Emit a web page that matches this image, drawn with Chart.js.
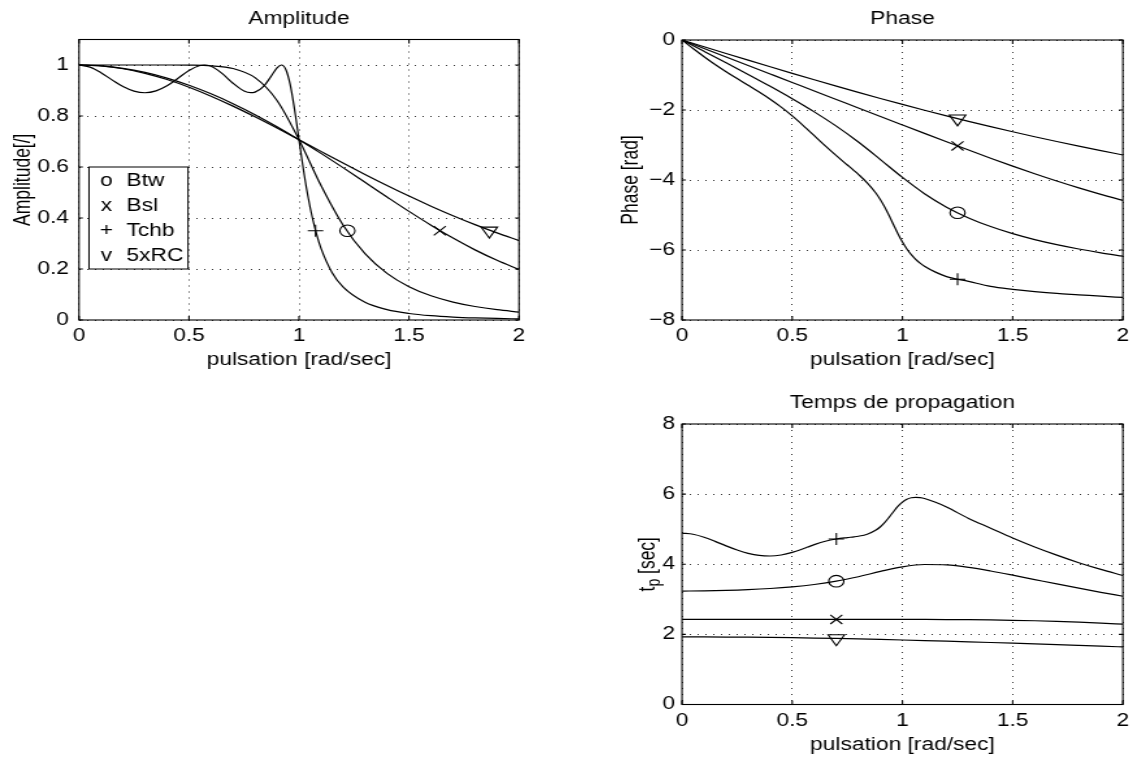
<!DOCTYPE html>
<html><head><meta charset="utf-8">
<script src="https://cdn.jsdelivr.net/npm/chart.js@4.4.1/dist/chart.umd.min.js"></script>
<style>
html,body{margin:0;padding:0;background:#fff;}
body{width:1137px;height:760px;position:relative;overflow:hidden;}
canvas{position:absolute;}
</style></head><body>
<canvas id="cAmp"></canvas>
<canvas id="cPhase"></canvas>
<canvas id="cDelay"></canvas>
<script>
// ---------- data ----------
const wGrid = [0,0.1,0.2,0.3,0.4,0.5,0.6,0.7,0.8,0.9,1.0,1.1,1.2,1.3,1.4,1.5,1.6,1.7,1.8,1.9,2.0];
const wCheb = [0,0.05,0.1,0.15,0.2,0.25,0.3,0.35,0.4,0.45,0.5,0.55,0.57,0.6,0.65,0.7,0.75,0.78,0.8,0.84,0.88,0.9,0.92,0.94,0.96,0.98,1.0,1.02,1.04,1.06,1.08,1.1,1.15,1.2,1.3,1.4,1.5,1.6,1.7,1.8,1.9,2.0];

const ampBtw = [1,1,1,1,0.99995,0.99951,0.99699,0.98617,0.95029,0.86106,0.70711,0.52751,0.37289,0.26006,0.18280,0.13056,0.09494,0.07026,0.05285,0.04035,0.03123];
const ampBsl = [1,0.9967,0.9870,0.9708,0.9486,0.9205,0.8869,0.8483,0.8052,0.7579,0.7071,0.6534,0.5974,0.5400,0.4825,0.4259,0.3718,0.3212,0.2750,0.2340,0.1981];
const ampRC  = [1,0.99629,0.98528,0.96731,0.94291,0.91279,0.87777,0.83876,0.79672,0.75253,0.70711,0.66125,0.61567,0.57096,0.52762,0.48603,0.44646,0.40913,0.37415,0.34156,0.31135];
const ampTchb = [1.0000,0.99164,0.96971,0.94168,0.91559,0.89754,0.89125,0.89837,0.91839,0.94785,0.97869,0.99824,1.00000,0.99471,0.96710,0.92847,0.89810,0.89129,0.89352,0.91727,0.96447,0.98861,1.00000,0.98243,0.92292,0.82442,0.70644,0.59035,0.48839,0.40393,0.33572,0.28105,0.18654,0.12951,0.06916,0.04069,0.02561,0.01694,0.01166,0.00827,0.00602,0.00448];

const phaseBtw = [0,-0.32402,-0.65058,-0.98248,-1.32322,-1.67771,-2.05352,-2.46193,-2.91573,-3.41551,-3.92699,-4.39162,-4.77596,-5.08325,-5.33027,-5.53284,-5.70194,-5.84612,-5.97076,-6.07983,-6.17627];
const phaseBsl = [0,-0.24274,-0.48548,-0.72822,-0.97096,-1.21370,-1.45644,-1.69910,-1.94180,-2.18430,-2.42640,-2.66770,-2.90730,-3.14420,-3.37670,-3.60300,-3.82110,-4.02920,-4.22600,-4.41020,-4.58170];
const phaseRC  = [0,-0.19271,-0.38485,-0.57586,-0.76519,-0.95234,-1.13683,-1.31837,-1.49613,-1.67022,-1.84021,-2.00584,-2.16696,-2.32341,-2.47511,-2.62199,-2.76405,-2.90129,-3.03377,-3.16155,-3.28472];
const phaseTchb = [0,-0.24280,-0.47714,-0.69797,-0.90490,-1.10138,-1.29333,-1.48812,-1.69395,-1.91892,-2.16894,-2.44407,-2.55938,-2.73506,-3.02619,-3.30487,-3.57083,-3.73003,-3.83963,-4.08006,-4.37801,-4.56300,-4.77872,-5.02367,-5.28536,-5.54206,-5.77353,-5.97002,-6.13190,-6.26433,-6.37337,-6.46426,-6.63194,-6.75952,-6.89748,-7.04025,-7.12376,-7.18905,-7.24203,-7.27982,-7.31905,-7.35616];

const delayBtw = [3.2361,3.2402,3.2529,3.2749,3.3080,3.3554,3.4225,3.5170,3.6447,3.7950,3.9270,3.9924,3.9800,3.9102,3.8073,3.6886,3.5637,3.4389,3.3171,3.1999,3.0881];
const delayBsl = [2.4274,2.4274,2.4274,2.4274,2.4274,2.4274,2.4274,2.4273,2.4273,2.4270,2.4264,2.4252,2.4228,2.4186,2.4119,2.4020,2.3882,2.3701,2.3478,2.3212,2.2909];
const delayRC  = [1.9281,1.9271,1.9243,1.9195,1.9130,1.9047,1.8947,1.8834,1.8702,1.8558,1.8402,1.8235,1.8058,1.7872,1.7679,1.7480,1.7275,1.7066,1.6854,1.6640,1.6424];
const delayTchb = [4.8868,4.8559,4.7714,4.6531,4.5245,4.4055,4.3111,4.2518,4.2349,4.2643,4.3379,4.4438,4.4901,4.5584,4.6557,4.7212,4.7611,4.7821,4.7995,4.8572,4.9750,5.0700,5.1943,5.3443,5.5056,5.6552,5.7735,5.8530,5.8961,5.9097,5.9013,5.8766,5.7669,5.6329,5.3058,5.0288,4.7492,4.4932,4.2600,4.0443,3.8521,3.6781];

// marker positions, order: Btw, Bsl, Tchb, 5xRC
const markAmpX = [1.22, 1.64, 1.075, 1.865];
const markAmpY = [0.35, 0.35, 0.35, 0.35];
const markPhaseX = [1.25, 1.25, 1.25, 1.25];
const markPhaseY = [-4.935, -3.026, -6.835, -2.245];
const markDelayX = [0.7, 0.7, 0.7, 0.7];
const markDelayY = [3.517, 2.4273, 4.7212, 1.8834];

const xTicks = [0, 0.5, 1, 1.5, 2];
const legendSymbols = ['o', 'x', '+', 'v'];
const legendNames = ['Btw', 'Bsl', 'Tchb', '5xRC'];

// ---------- styling / layout ----------
const SX = 1.3;            // horizontal stretch of the original figure
const FONT = "'Liberation Sans', Arial, Helvetica, sans-serif";
const FS = 17.5;
Chart.defaults.font.family = FONT;
Chart.defaults.font.size = FS;
Chart.defaults.color = '#000';

const markStyles = [
  {pointStyle: 'circle', radius: 5.8, rotation: 0},
  {pointStyle: 'crossRot', radius: 6.5, rotation: 0},
  {pointStyle: 'cross', radius: 6, rotation: 0},
  {pointStyle: 'triangle', radius: 7.3, rotation: 180}
];

function setupCanvas(id, cssLeft, cssTop, cssW, cssH) {
  const c = document.getElementById(id);
  const iw = Math.round(cssW / SX);
  c.width = iw; c.height = cssH;
  c.style.left = cssLeft + 'px'; c.style.top = cssTop + 'px';
  c.style.width = cssW + 'px'; c.style.height = cssH + 'px';
  return {canvas: c, iw, ih: cssH, sx: cssW / iw};
}

function curve(xs, ys) {
  return {data: xs.map((x, i) => ({x, y: ys[i]})), showLine: true, borderColor: '#000',
    borderWidth: 1.2, pointRadius: 0, cubicInterpolationMode: 'monotone', fill: false};
}
function marker(x, y, k) {
  const s = markStyles[k];
  return {data: [{x, y}], showLine: false, pointStyle: s.pointStyle, pointRadius: s.radius,
    pointRotation: s.rotation, pointBorderColor: '#000', pointBackgroundColor: 'rgba(0,0,0,0)',
    pointBorderWidth: 1.1};
}

const boxPlugin = {
  id: 'boxTicks',
  afterDraw(chart) {
    const ctx = chart.ctx;
    const {left, right, top, bottom} = chart.chartArea;
    ctx.save();
    ctx.strokeStyle = '#000'; ctx.lineWidth = 1.1; ctx.setLineDash([]);
    ctx.strokeRect(left, top, right - left, bottom - top);
    const xs = chart.scales.x, ys = chart.scales.y;
    ctx.beginPath();
    xs.ticks.forEach(t => { const p = xs.getPixelForValue(t.value);
      ctx.moveTo(p, bottom); ctx.lineTo(p, bottom - 4); ctx.moveTo(p, top); ctx.lineTo(p, top + 4); });
    ys.ticks.forEach(t => { const p = ys.getPixelForValue(t.value);
      ctx.moveTo(left, p); ctx.lineTo(left + 3, p); ctx.moveTo(right, p); ctx.lineTo(right - 3, p); });
    ctx.stroke();
    ctx.restore();
  }
};

function makeChart(cv, o) {
  const sx = cv.sx;
  const L = o.box.L / sx, R = o.box.R / sx;
  const titleLH = FS * 1.2;
  return new Chart(cv.canvas, {
    type: 'scatter',
    data: {datasets: o.datasets},
    options: {
      responsive: false, animation: false, devicePixelRatio: 1, events: [],
      layout: {padding: {left: 0, right: cv.iw - R, top: 0, bottom: 0}},
      plugins: {
        legend: {display: false}, tooltip: {enabled: false},
        title: {display: true, text: o.title, fullSize: false, color: '#000',
          font: {size: FS, weight: 'normal', family: FONT},
          padding: {top: o.titleTop, bottom: o.box.T - o.titleTop - titleLH}}
      },
      scales: {
        x: {type: 'linear', min: 0, max: 2,
          afterBuildTicks: a => { a.ticks = xTicks.map(v => ({value: v})); },
          afterFit: a => { a.height = cv.ih - o.box.B; },
          ticks: {padding: 6, autoSkip: false, maxRotation: 0, color: '#000',
            callback: v => String(v)},
          grid: {color: '#333', lineWidth: 1, drawTicks: false, tickLength: 0},
          border: {display: false, dash: [1, 5]},
          title: {display: true, text: 'pulsation [rad/sec]', color: '#000',
            font: {size: FS}, padding: {top: 0, bottom: o.xTitleBottom}}
        },
        y: {type: 'linear', min: o.yMin, max: o.yMax,
          afterBuildTicks: a => { a.ticks = o.yTicks.map(v => ({value: v})); },
          afterFit: a => { a.width = L; },
          ticks: {padding: o.yTickPad / sx, color: '#000', callback: o.yFmt},
          grid: {color: '#333', lineWidth: 1, drawTicks: false, tickLength: 0},
          border: {display: false, dash: [1, 5]},
          title: {display: !!o.yTitle, text: o.yTitle || '', color: '#000',
            font: {size: FS}, padding: {top: o.yTitleX / sx - titleLH / 2, bottom: 0}}
        }
      }
    },
    plugins: [boxPlugin].concat(o.plugins || [])
  });
}

const fmt1 = v => String(Math.round(v * 10) / 10);
const fmtNeg = v => v < 0 ? '\u2212' + Math.abs(v) : String(v);

// ---------- Amplitude ----------
const cvA = setupCanvas('cAmp', 0, 0, 598, 380);
const legendPlugin = {
  id: 'ampLegend',
  afterDraw(chart) {
    const ctx = chart.ctx, sx = cvA.sx;
    const bx = 89 / sx, bw = (188 - 89) / sx, by = 167, bh = 102;
    ctx.save();
    ctx.fillStyle = '#fff'; ctx.fillRect(bx, by, bw, bh);
    ctx.strokeStyle = '#000'; ctx.lineWidth = 1; ctx.strokeRect(bx, by, bw, bh);
    ctx.fillStyle = '#000'; ctx.font = FS + 'px ' + FONT; ctx.textBaseline = 'middle';
    legendNames.forEach((n, i) => {
      const y = by + 14.5 + i * 25;
      ctx.textAlign = 'center'; ctx.fillText(legendSymbols[i], 106.5 / sx, y);
      ctx.textAlign = 'left'; ctx.fillText(n, 126.5 / sx, y);
    });
    ctx.restore();
  }
};
makeChart(cvA, {
  box: {L: 79, R: 519, T: 39.5, B: 320},
  title: 'Amplitude', titleTop: 8.5, xTitleBottom: 9,
  yMin: 0, yMax: 1.1, yTicks: [0, 0.2, 0.4, 0.6, 0.8, 1], yFmt: fmt1, yTickPad: 10,
  yTitle: 'Amplitude[/]', yTitleX: 23,
  datasets: [curve(wGrid, ampBtw), curve(wGrid, ampBsl), curve(wCheb, ampTchb), curve(wGrid, ampRC)]
    .concat(markAmpX.map((x, k) => marker(x, markAmpY[k], k))),
  plugins: [legendPlugin]
});

// ---------- Phase ----------
const cvP = setupCanvas('cPhase', 600, 0, 537, 380);
makeChart(cvP, {
  box: {L: 82, R: 523, T: 40, B: 320},
  title: 'Phase', titleTop: 8.5, xTitleBottom: 9,
  yMin: -8, yMax: 0, yTicks: [-8, -6, -4, -2, 0], yFmt: fmtNeg, yTickPad: 7,
  yTitle: 'Phase [rad]', yTitleX: 31.5,
  datasets: [curve(wGrid, phaseBtw), curve(wGrid, phaseBsl), curve(wCheb, phaseTchb), curve(wGrid, phaseRC)]
    .concat(markPhaseX.map((x, k) => marker(x, markPhaseY[k], k)))
});

// ---------- Temps de propagation ----------
const cvD = setupCanvas('cDelay', 600, 380, 537, 380);
const tpPlugin = {
  id: 'tpLabel',
  afterDraw(chart) {
    const ctx = chart.ctx, sx = cvD.sx;
    const {top, bottom} = chart.chartArea;
    const main = FS + 'px ' + FONT, sub = (FS * 0.8) + 'px ' + FONT;
    ctx.save();
    ctx.translate(48 / sx, (top + bottom) / 2);
    ctx.rotate(-Math.PI / 2);
    ctx.fillStyle = '#000'; ctx.textBaseline = 'middle'; ctx.textAlign = 'left';
    ctx.font = main; const wt = ctx.measureText('t').width; const ws = ctx.measureText(' [sec]').width;
    ctx.font = sub; const wp = ctx.measureText('p').width;
    const x0 = -(wt + wp + ws) / 2;
    ctx.font = main; ctx.fillText('t', x0, 0);
    ctx.font = sub; ctx.fillText('p', x0 + wt, 5.5);
    ctx.font = main; ctx.fillText(' [sec]', x0 + wt + wp, 0);
    ctx.restore();
  }
};
makeChart(cvD, {
  box: {L: 82, R: 523, T: 44, B: 324.5},
  title: 'Temps de propagation', titleTop: 13, xTitleBottom: 4.5,
  yMin: 0, yMax: 8, yTicks: [0, 2, 4, 6, 8], yFmt: v => String(v), yTickPad: 7,
  yTitle: '', yTitleX: 20,
  datasets: [curve(wGrid, delayBtw), curve(wGrid, delayBsl), curve(wCheb, delayTchb), curve(wGrid, delayRC)]
    .concat(markDelayX.map((x, k) => marker(x, markDelayY[k], k))),
  plugins: [tpPlugin]
});
</script>
</body></html>
